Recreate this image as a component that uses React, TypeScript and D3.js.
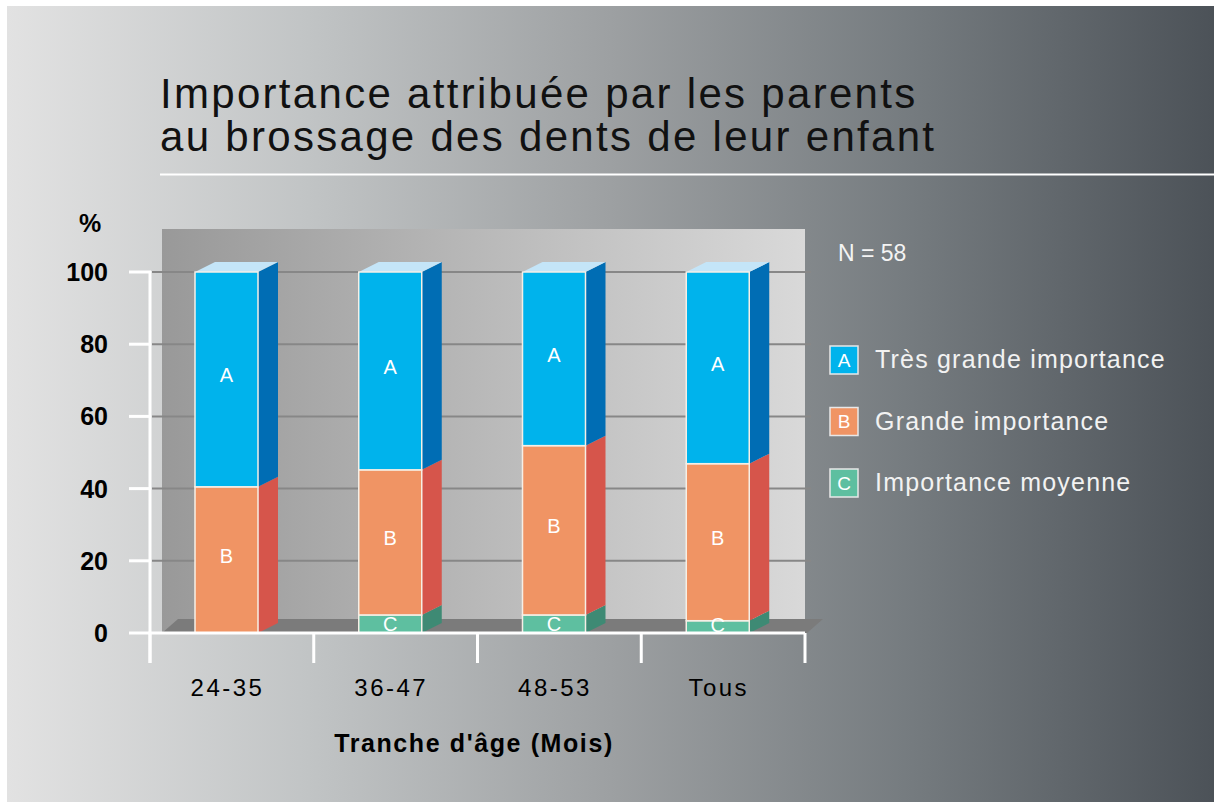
import React from "react";
import * as d3 from "d3";

const categories = ["24-35", "36-47", "48-53", "Tous"];
const seriesKeys = ["C", "B", "A"];
const valuesA = [59.5, 54.8, 48.1, 53.1];
const valuesB = [40.5, 40.2, 46.9, 43.5];
const valuesC = [0, 5.0, 5.0, 3.4];
const yTicks = [0, 20, 40, 60, 80, 100];
const legendItems = [
  { key: "A", label: "Très grande importance" },
  { key: "B", label: "Grande importance" },
  { key: "C", label: "Importance moyenne" },
];
const titleLines = ["Importance attribuée par les parents", "au brossage des dents de leur enfant"];

const colors: Record<string, { front: string; side: string; top: string }> = {
  A: { front: "#00b3ec", side: "#006db4", top: "#c4e5f8" },
  B: { front: "#f09464", side: "#d6554b", top: "#f8c3a5" },
  C: { front: "#5ebfa0", side: "#3e8a74", top: "#a6dcc9" },
};

const FONT = "'Liberation Sans', Arial, Helvetica, sans-serif";

export default function App() {
  const W = 1214;
  const H = 803;
  const x = d3.scaleBand<string>().domain(categories).range([150, 805]);
  const y = d3.scaleLinear().domain([0, 100]).range([633, 272]);
  const barOffset = 45;
  const barW = 63;
  const dx = 20;
  const dy = 10;

  const data = categories.map((c, i) => ({ cat: c, A: valuesA[i], B: valuesB[i], C: valuesC[i] }));
  const stacked = d3.stack<any>().keys(seriesKeys)(data);

  const bg = [
    { o: 0, c: "#e2e2e2" },
    { o: 0.25, c: "#c1c4c5" },
    { o: 0.5, c: "#9da0a2" },
    { o: 0.75, c: "#757b7f" },
    { o: 1, c: "#4c5258" },
  ];

  const segs: any[] = [];
  stacked.forEach((layer) => {
    layer.forEach((d, i) => {
      const v = d[1] - d[0];
      if (v <= 0) return;
      segs.push({ key: layer.key, cat: categories[i], y0: d[0], y1: d[1], i });
    });
  });

  return (
    <svg width={W} height={H} style={{ position: "absolute", left: 0, top: 0, display: "block" }}>
      <defs>
        <linearGradient id="bg" x1="0" x2="1" y1="0" y2="0">
          {bg.map((s) => (
            <stop key={s.o} offset={s.o} stopColor={s.c} />
          ))}
        </linearGradient>
        <linearGradient id="wall" x1="0" x2="1" y1="0" y2="0">
          <stop offset="0" stopColor="#999999" />
          <stop offset="1" stopColor="#d9d9d9" />
        </linearGradient>
      </defs>
      <rect x={0} y={0} width={W} height={H} fill="#ffffff" />
      <rect x={7} y={6} width={W - 7} height={H - 7} fill="url(#bg)" />

      {/* title */}
      {titleLines.map((t, i) => (
        <text key={i} x={160} y={108 + i * 43} fontFamily={FONT} fontSize={42} letterSpacing={2.3} fill="#111">
          {t}
        </text>
      ))}
      <line x1={160} x2={W} y1={174.5} y2={174.5} stroke="#ffffff" strokeWidth={2} />

      {/* wall */}
      <rect x={162} y={229} width={805 - 162} height={633 - 229} fill="url(#wall)" />
      {/* floor */}
      <polygon points={`162,633 178,619 823,619 807,633`} fill="#7b7b7b" />
      {/* gridlines */}
      {yTicks.filter((t) => t > 0).map((t) => (
        <line key={t} x1={152} x2={811} y1={y(t)} y2={y(t)} stroke="#878787" strokeWidth={2} />
      ))}

      {/* bars */}
      {segs.map((s, k) => {
        const x0 = (x(s.cat) as number) + barOffset;
        const yt = y(s.y1);
        const yb = y(s.y0);
        const c = colors[s.key];
        const isTop = s.y1 >= 99.9;
        return (
          <g key={k}>
            <polygon
              points={`${x0 + barW},${yt} ${x0 + barW + dx},${yt - dy} ${x0 + barW + dx},${yb - dy} ${x0 + barW},${yb}`}
              fill={c.side}
            />
            {isTop && (
              <polygon
                points={`${x0},${yt} ${x0 + dx},${yt - dy} ${x0 + barW + dx},${yt - dy} ${x0 + barW},${yt}`}
                fill={c.top}
              />
            )}
            <rect x={x0} y={yt} width={barW} height={yb - yt} fill={c.front} stroke="#f6efe6" strokeWidth={1.5} />
          </g>
        );
      })}
      {segs.map((s, k) => {
        const x0 = (x(s.cat) as number) + barOffset;
        const mid = (y(s.y1) + y(s.y0)) / 2;
        const cy = s.key === "C" ? Math.min(mid, 625) : mid - 4;
        return (
          <text
            key={"l" + k}
            x={x0 + barW / 2}
            y={cy}
            dy="0.35em"
            textAnchor="middle"
            fontFamily={FONT}
            fontSize={20}
            fill="#ffffff"
          >
            {s.key}
          </text>
        );
      })}

      {/* axes */}
      <line x1={150} x2={150} y1={y(100) - 1} y2={663} stroke="#ffffff" strokeWidth={3} />
      <line x1={148.5} x2={805} y1={633} y2={633} stroke="#ffffff" strokeWidth={3} />
      {yTicks.map((t) => (
        <line key={"yt" + t} x1={129} x2={151} y1={y(t)} y2={y(t)} stroke="#ffffff" strokeWidth={3} />
      ))}
      {[...categories.map((c) => x(c) as number), 805].map((xx, i) => (
        <line key={"xt" + i} x1={xx} x2={xx} y1={633} y2={663} stroke="#ffffff" strokeWidth={3} />
      ))}
      {yTicks.map((t) => (
        <text
          key={"yl" + t}
          x={108}
          y={y(t)}
          dy="0.36em"
          textAnchor="end"
          fontFamily={FONT}
          fontWeight="bold"
          fontSize={25}
          fill="#000"
        >
          {t}
        </text>
      ))}
      <text x={90} y={232} textAnchor="middle" fontFamily={FONT} fontWeight="bold" fontSize={25} fill="#000">
        %
      </text>
      {categories.map((c) => (
        <text
          key={"xl" + c}
          x={(x(c) as number) + barOffset + barW / 2 + 1}
          y={696}
          textAnchor="middle"
          fontFamily={FONT}
          fontSize={24}
          letterSpacing={2.5}
          fill="#000"
        >
          {c}
        </text>
      ))}
      <text x={474} y={752} textAnchor="middle" fontFamily={FONT} fontWeight="bold" fontSize={25} letterSpacing={1.6} fill="#000">
        Tranche d'âge (Mois)
      </text>

      {/* N */}
      <text x={838} y={261} fontFamily={FONT} fontSize={23} fill="#f4f4f4">
        N = 58
      </text>

      {/* legend */}
      {legendItems.map((it, i) => {
        const ty = 346 + i * 61.5;
        return (
          <g key={it.key}>
            <rect x={830} y={ty} width={28} height={28} fill={colors[it.key].front} stroke="#e8e8e8" strokeWidth={1.5} />
            <text x={844} y={ty + 14} dy="0.36em" textAnchor="middle" fontFamily={FONT} fontSize={19} fill="#fff">
              {it.key}
            </text>
            <text x={875} y={ty + 22} fontFamily={FONT} fontSize={25} letterSpacing={1.2} fill="#f2f2f2">
              {it.label}
            </text>
          </g>
        );
      })}
    </svg>
  );
}
